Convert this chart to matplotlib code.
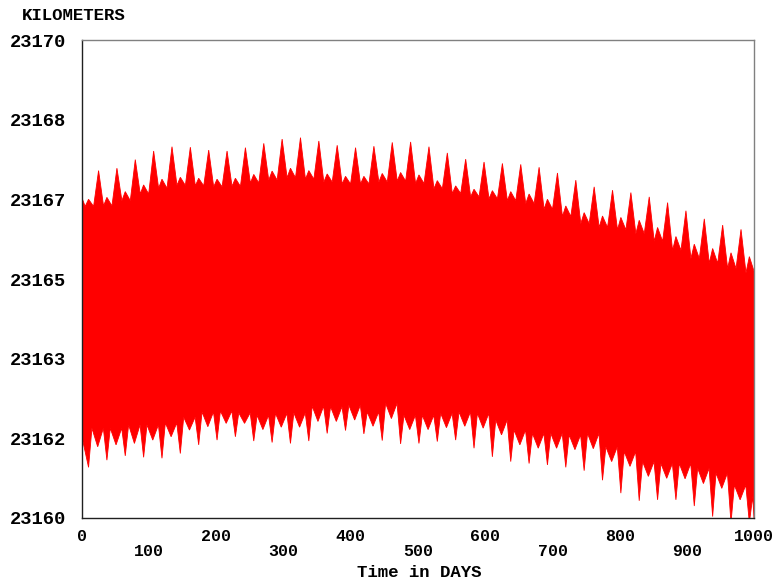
import numpy as np
from matplotlib import pyplot as plt

# Radius envelope over 1000 days (km), read per ~27.3 day cycle
bump_day = [9.9, 37.2, 64.5, 91.8, 119.1, 146.4, 173.7, 201.0, 228.3, 255.6,
            282.9, 310.2, 337.5, 364.8, 392.1, 419.4, 446.7, 474.0, 501.3, 528.6,
            555.9, 583.2, 610.5, 637.8, 665.1, 692.4, 719.7, 747.0, 774.3, 801.6,
            828.9, 856.2, 883.5, 910.8, 938.1, 965.4, 992.7]
peak_day = [24.8, 52.1, 79.4, 106.7, 134.0, 161.3, 188.6, 215.9, 243.2, 270.5,
            297.8, 325.1, 352.4, 379.7, 407.0, 434.3, 461.6, 488.9, 516.2, 543.5,
            570.8, 598.1, 625.4, 652.7, 680.0, 707.3, 734.6, 761.9, 789.2, 816.5,
            843.8, 871.1, 898.4, 925.7, 953.0, 980.3]

# upper edge
peak_km = [23167.27, 23167.32, 23167.50, 23167.68, 23167.77, 23167.76, 23167.70, 23167.68,
           23167.75, 23167.84, 23167.93, 23167.96, 23167.89, 23167.80, 23167.75, 23167.78,
           23167.86, 23167.87, 23167.77, 23167.64, 23167.51, 23167.45, 23167.42, 23167.40,
           23167.34, 23167.22, 23167.07, 23166.93, 23166.86, 23166.81, 23166.72, 23166.60,
           23166.43, 23166.26, 23166.13, 23166.04]
bump_km = [23166.67, 23166.71, 23166.83, 23166.97, 23167.09, 23167.13, 23167.11, 23167.09,
           23167.11, 23167.19, 23167.26, 23167.32, 23167.27, 23167.20, 23167.15, 23167.15,
           23167.21, 23167.23, 23167.18, 23167.06, 23166.95, 23166.88, 23166.85, 23166.83,
           23166.78, 23166.67, 23166.53, 23166.39, 23166.32, 23166.29, 23166.23, 23166.08,
           23165.89, 23165.73, 23165.64, 23165.55, 23165.47]
valley_km = [23166.52, 23166.53, 23166.64, 23166.78, 23166.90, 23166.96, 23166.95, 23166.93,
             23166.94, 23167.01, 23167.07, 23167.12, 23167.09, 23167.03, 23166.99, 23166.99,
             23167.03, 23167.05, 23167.00, 23166.89, 23166.79, 23166.72, 23166.68, 23166.64,
             23166.58, 23166.46, 23166.31, 23166.16, 23166.08, 23166.03, 23165.95, 23165.79,
             23165.60, 23165.43, 23165.33, 23165.22, 23165.13]

# lower edge
tip_km = [23161.06, 23161.21, 23161.30, 23161.27, 23161.25, 23161.35, 23161.53, 23161.63,
          23161.70, 23161.61, 23161.58, 23161.56, 23161.61, 23161.77, 23161.83, 23161.76,
          23161.62, 23161.55, 23161.56, 23161.60, 23161.63, 23161.46, 23161.28, 23161.18,
          23161.14, 23161.11, 23161.06, 23160.99, 23160.79, 23160.52, 23160.36, 23160.38,
          23160.38, 23160.25, 23160.03, 23159.90, 23159.90]
crest_km = [23161.88, 23161.88, 23161.95, 23161.95, 23161.99, 23162.11, 23162.22, 23162.24,
            23162.20, 23162.15, 23162.19, 23162.20, 23162.34, 23162.33, 23162.36, 23162.22,
            23162.40, 23162.15, 23162.15, 23162.19, 23162.22, 23162.19, 23162.05, 23161.84,
            23161.77, 23161.77, 23161.74, 23161.77, 23161.49, 23161.39, 23161.18, 23161.14,
            23161.14, 23161.04, 23160.94, 23160.69, 23160.45]
notch_km = [23161.49, 23161.53, 23161.56, 23161.63, 23161.70, 23161.84, 23161.91, 23161.98,
            23161.98, 23161.85, 23161.90, 23161.90, 23162.02, 23162.02, 23162.05, 23161.92,
            23162.08, 23161.85, 23161.85, 23161.89, 23161.92, 23161.88, 23161.74, 23161.53,
            23161.46, 23161.46, 23161.43, 23161.45, 23161.18, 23161.08, 23160.87, 23160.83,
            23160.82, 23160.72, 23160.62, 23160.38, 23160.14]

start_km = (23166.70, 23161.70)
end_km = (23165.15, 23159.90)

x_ticks = list(range(0, 1001, 100))
y_ticks = np.linspace(23160, 23170, 7)


def envelope():
    ux, uy = [0.0], [start_km[0]]
    for k, b in enumerate(bump_day):
        ux += [b - 5, b, b + 7.5]
        uy += [valley_km[k], bump_km[k], valley_km[k]]
        if k < len(peak_day):
            ux.append(peak_day[k])
            uy.append(peak_km[k])
    lx, ly = [0.0], [start_km[1]]
    for k, t in enumerate(bump_day):
        lx += [t, t + 5, t + 13.6, t + 22]
        ly += [tip_km[k], crest_km[k], notch_km[k], crest_km[k]]
    ux, uy = np.array(ux), np.array(uy)
    lx, ly = np.array(lx), np.array(ly)
    ux, uy = np.append(ux[ux < 1000], 1000), np.append(uy[ux < 1000], end_km[0])
    lx, ly = np.append(lx[lx < 1000], 1000), np.append(ly[lx < 1000], end_km[1])
    return ux, uy, lx, ly


def main():
    ux, uy, lx, ly = envelope()

    fig = plt.figure(figsize=(7.8, 5.82), dpi=100)
    ax = fig.add_axes([0.105, 0.110, 0.862, 0.821])

    ax.fill(np.concatenate([ux, lx[::-1]]), np.concatenate([uy, ly[::-1]]),
            color='#ff0000', lw=0.6, ec='#ff0000', clip_on=True)

    ax.set_xlim(0, 1000)
    ax.set_ylim(23160, 23170)

    font = dict(family=['Liberation Mono', 'DejaVu Sans Mono'], weight='bold')
    ax.set_yticks(y_ticks)
    ax.set_yticklabels(['%.0f' % v for v in y_ticks], fontsize=13.5, **font)
    ax.set_xticks(x_ticks)
    ax.set_xticklabels([str(v) if v % 200 == 0 else '\n' + str(v) for v in x_ticks],
                       fontsize=12, linespacing=1.0, **font)
    ax.tick_params(axis='both', length=0, colors='black')
    ax.tick_params(axis='y', pad=11)
    ax.tick_params(axis='x', pad=8)

    for side in ['top', 'right']:
        ax.spines[side].set_color('#808080')
    for side in ['left', 'bottom']:
        ax.spines[side].set_color('#202020')
    for s in ax.spines.values():
        s.set_linewidth(1.0)

    fig.text(0.028, 0.974, 'KILOMETERS', fontsize=12.5, va='center', ha='left', **font)
    fig.text(0.538, 0.017, 'Time in DAYS', fontsize=12.5, va='center', ha='center', **font)

    fig.savefig('out.png', dpi=100)


if __name__ == "__main__":
    main()
